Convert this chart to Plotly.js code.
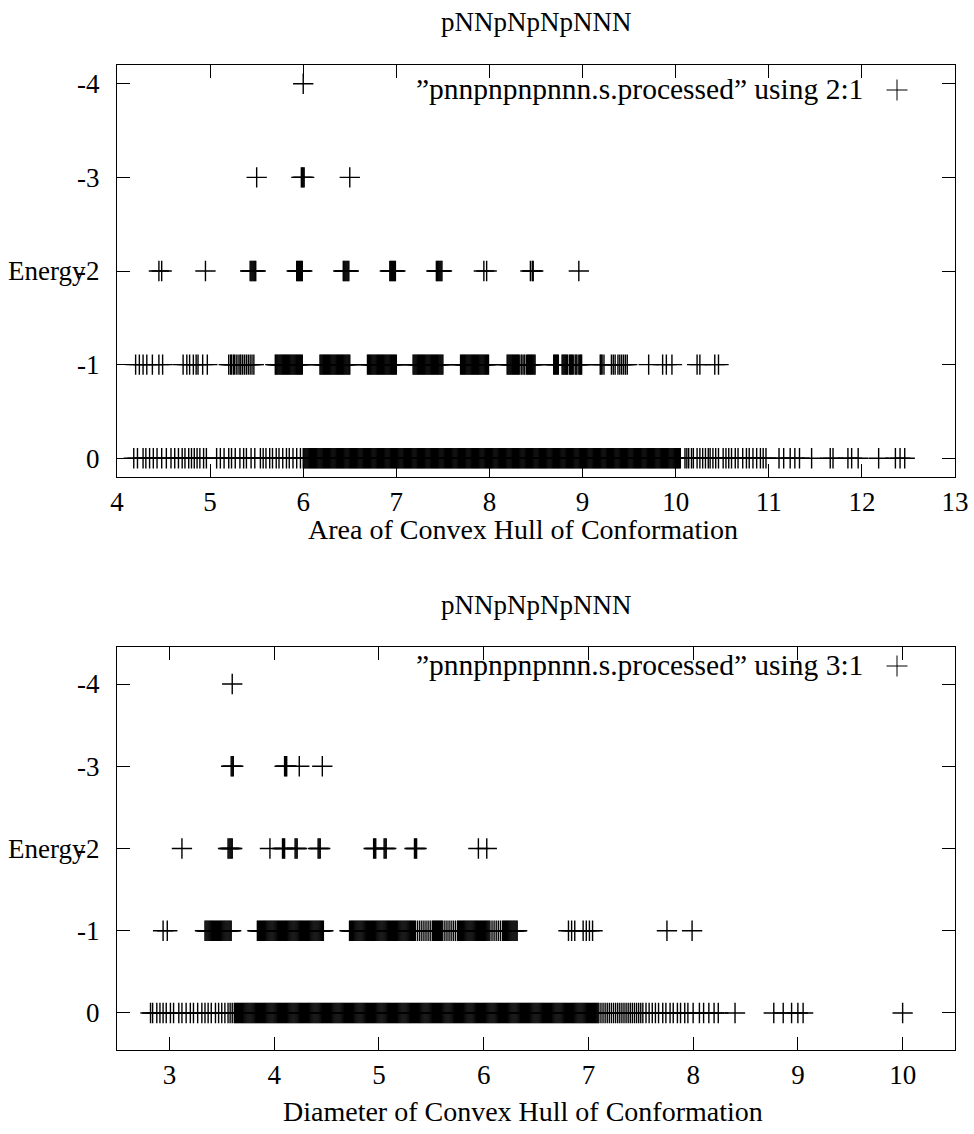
<!DOCTYPE html>
<html>
<head>
<meta charset="utf-8">
<script src="https://cdn.plot.ly/plotly-3.0.1.min.js"></script>
<style>html,body{margin:0;padding:0;background:#fff;}#chart{width:974px;height:1134px;}</style>
</head>
<body>
<div id="chart"></div>
<script>
// ---------- DATA ----------
var plotTitle = "pNNpNpNpNNN";
var energyTicks = [-4, -3, -2, -1, 0];
var energyTickText = ["-4", "-3", "-2", "-1", "0"];
var areaTicks = [4, 5, 6, 7, 8, 9, 10, 11, 12, 13];
var diamTicks = [3, 4, 5, 6, 7, 8, 9, 10];
var legendTop = "\u201dpnnpnpnpnnn.s.processed\u201d using 2:1";
var legendBottom = "\u201dpnnpnpnpnnn.s.processed\u201d using 3:1";

// Area of convex hull (column 2) per energy level
var areaE0 = [3.56,3.76,3.84,3.89,
4.18,4.22,4.28,4.31,4.35,4.39,4.43,4.48,4.53,4.58,4.62,4.66,4.70,4.73,4.77,4.80,4.83,4.86,4.89,4.93,4.96,5.07,5.11,5.15,5.20,5.23,5.27,5.32,5.36,5.39,5.44,5.48,5.54,5.57,5.60,5.64,5.67,5.71,5.74,5.78,5.82,5.85,5.89,5.93,5.97,
6.00,6.01,6.02,6.03,6.04,6.05,6.06,6.07,6.08,6.09,6.10,6.11,6.12,6.13,6.14,6.15,6.16,6.17,6.18,6.19,
6.20,6.21,6.22,6.23,6.24,6.25,6.26,6.27,6.28,6.29,6.30,6.31,6.32,6.33,6.34,6.35,6.36,6.37,6.38,6.39,
6.40,6.41,6.42,6.43,6.44,6.45,6.46,6.47,6.48,6.49,6.50,6.51,6.52,6.53,6.54,6.55,6.56,6.57,6.58,6.59,
6.60,6.61,6.62,6.63,6.64,6.65,6.66,6.67,6.68,6.69,6.70,6.71,6.72,6.73,6.74,6.75,6.76,6.77,6.78,6.79,
6.80,6.81,6.82,6.83,6.84,6.85,6.86,6.87,6.88,6.89,6.90,6.91,6.92,6.93,6.94,6.95,6.96,6.97,6.98,6.99,
7.00,7.01,7.02,7.03,7.04,7.05,7.06,7.07,7.08,7.09,7.10,7.11,7.12,7.13,7.14,7.15,7.16,7.17,7.18,7.19,
7.20,7.21,7.22,7.23,7.24,7.25,7.26,7.27,7.28,7.29,7.30,7.31,7.32,7.33,7.34,7.35,7.36,7.37,7.38,7.39,
7.40,7.41,7.42,7.43,7.44,7.45,7.46,7.47,7.48,7.49,7.50,7.51,7.52,7.53,7.54,7.55,7.56,7.57,7.58,7.59,
7.60,7.61,7.62,7.63,7.64,7.65,7.66,7.67,7.68,7.69,7.70,7.71,7.72,7.73,7.74,7.75,7.76,7.77,7.78,7.79,
7.80,7.81,7.82,7.83,7.84,7.85,7.86,7.87,7.88,7.89,7.90,7.91,7.92,7.93,7.94,7.95,7.96,7.97,7.98,7.99,
8.00,8.01,8.02,8.03,8.04,8.05,8.06,8.07,8.08,8.09,8.10,8.11,8.12,8.13,8.14,8.15,8.16,8.17,8.18,8.19,
8.20,8.21,8.22,8.23,8.24,8.25,8.26,8.27,8.28,8.29,8.30,8.31,8.32,8.33,8.34,8.35,8.36,8.37,8.38,8.39,
8.40,8.41,8.42,8.43,8.44,8.45,8.46,8.47,8.48,8.49,8.50,8.51,8.52,8.53,8.54,8.55,8.56,8.57,8.58,8.59,
8.60,8.61,8.62,8.63,8.64,8.65,8.66,8.67,8.68,8.69,8.70,8.71,8.72,8.73,8.74,8.75,8.76,8.77,8.78,8.79,
8.80,8.81,8.82,8.83,8.84,8.85,8.86,8.87,8.88,8.89,8.90,8.91,8.92,8.93,8.94,8.95,8.96,8.97,8.98,8.99,
9.00,9.01,9.02,9.03,9.04,9.05,9.06,9.07,9.08,9.09,9.10,9.11,9.12,9.13,9.14,9.15,9.16,9.17,9.18,9.19,
9.20,9.21,9.22,9.23,9.24,9.25,9.26,9.27,9.28,9.29,9.30,9.31,9.32,9.33,9.34,9.35,9.36,9.37,9.38,9.39,
9.40,9.41,9.42,9.43,9.44,9.45,9.46,9.47,9.48,9.49,9.50,9.51,9.52,9.53,9.54,9.55,9.56,9.57,9.58,9.59,
9.60,9.61,9.62,9.63,9.64,9.65,9.66,9.67,9.68,9.69,9.70,9.71,9.72,9.73,9.74,9.75,9.76,9.77,9.78,9.79,
9.80,9.81,9.82,9.83,9.84,9.85,9.86,9.87,9.88,9.89,9.90,9.91,9.92,9.93,9.94,9.95,9.96,9.97,9.98,9.99,
10.00,10.01,10.02,10.03,10.04,10.05,
10.10,10.12,10.14,10.17,10.19,10.23,10.26,10.29,10.32,10.35,10.37,10.40,10.43,10.46,10.51,10.54,10.57,10.60,10.64,10.67,10.72,10.76,10.79,10.83,10.87,10.91,10.94,10.97,
11.11,11.16,11.23,11.28,11.33,11.46,11.66,11.69,11.85,11.89,11.96,12.18,12.36,12.41,12.46];

var areaE1 = [4.20,4.24,4.28,4.32,4.38,4.45,4.49,
4.71,4.75,4.78,4.82,4.85,4.87,4.92,4.97,
5.20,5.22,5.23,5.25,5.26,5.28,5.30,5.32,5.33,5.35,5.37,5.39,5.41,5.43,5.45,5.47,
5.70,5.71,5.72,5.73,5.74,5.75,5.76,5.77,5.78,5.79,5.80,5.81,5.82,5.83,5.84,5.85,5.86,5.87,5.88,5.89,5.90,5.91,5.92,5.93,5.94,5.95,5.96,5.97,5.98,5.99,
6.18,6.19,6.20,6.21,6.22,6.23,6.24,6.25,6.26,6.27,6.28,6.29,6.30,6.31,6.32,6.33,6.34,6.35,6.36,6.37,6.38,6.39,6.40,6.41,6.42,6.43,6.44,6.45,6.46,6.47,6.48,6.49,6.50,
6.69,6.70,6.71,6.72,6.73,6.74,6.75,6.76,6.77,6.78,6.79,6.80,6.81,6.82,6.83,6.84,6.85,6.86,6.87,6.88,6.89,6.90,6.91,6.92,6.93,6.94,6.95,6.96,6.97,6.98,6.99,7.00,
7.18,7.19,7.20,7.21,7.22,7.23,7.24,7.25,7.26,7.27,7.28,7.29,7.30,7.31,7.32,7.33,7.34,7.35,7.36,7.37,7.38,7.39,7.40,7.41,7.42,7.43,7.44,7.45,7.46,7.47,7.48,7.49,7.50,
7.69,7.70,7.71,7.72,7.73,7.74,7.75,7.76,7.77,7.78,7.79,7.80,7.81,7.82,7.83,7.84,7.85,7.86,7.87,7.88,7.89,7.90,7.91,7.92,7.93,7.94,7.95,7.96,7.97,7.98,7.99,
8.19,8.20,8.21,8.22,8.23,8.24,8.25,8.26,8.27,8.28,8.29,8.30,8.31,8.32,8.34,8.35,8.37,8.38,8.40,8.41,8.42,8.43,8.44,8.45,8.46,8.47,8.48,8.49,
8.69,8.70,8.71,8.72,8.73,8.74,8.78,8.79,8.80,8.81,8.82,8.83,8.84,8.86,8.87,8.88,8.89,8.90,8.92,8.93,8.94,8.96,8.97,8.98,8.99,
9.19,9.20,9.21,9.23,9.31,9.33,9.35,9.38,9.40,9.42,9.44,9.46,9.48,
9.71,9.86,9.90,9.96,
10.23,10.26,10.42,10.46];

var areaE2 = [4.45,4.48,4.95,5.43,5.44,5.45,5.46,5.47,5.48,5.49,5.93,5.94,5.95,5.96,5.97,5.98,5.99,6.43,6.44,6.45,6.46,6.47,6.48,6.49,6.93,6.94,6.95,6.96,6.97,6.98,6.99,7.43,7.44,7.45,7.46,7.47,7.48,7.49,7.94,7.97,8.44,8.46,8.47,8.96];
var areaE3 = [5.50,5.98,5.99,6.00,6.01,6.50];
var areaE4 = [6.00];

// Diameter of convex hull (column 3) per energy level
var diamE0 = [2.82,2.84,2.88,2.91,2.94,2.97,3.01,3.04,3.09,3.12,3.16,3.20,3.23,3.27,3.31,3.34,3.37,3.40,3.44,3.47,3.50,3.53,3.56,3.58,3.60,3.62,
3.63,3.64,3.65,3.66,3.67,3.68,3.69,3.70,3.71,3.72,3.73,3.74,3.75,3.76,3.77,3.78,3.79,3.80,3.81,3.82,3.83,3.84,3.85,3.86,3.87,3.88,3.89,
3.90,3.91,3.92,3.93,3.94,3.95,3.96,3.97,3.98,3.99,4.00,4.01,4.02,4.03,4.04,4.05,4.06,4.07,4.08,4.09,
4.10,4.11,4.12,4.13,4.14,4.15,4.16,4.17,4.18,4.19,4.20,4.21,4.22,4.23,4.24,4.25,4.26,4.27,4.28,4.29,
4.30,4.31,4.32,4.33,4.34,4.35,4.36,4.37,4.38,4.39,4.40,4.41,4.42,4.43,4.44,4.45,4.46,4.47,4.48,4.49,
4.50,4.51,4.52,4.53,4.54,4.55,4.56,4.57,4.58,4.59,4.60,4.61,4.62,4.63,4.64,4.65,4.66,4.67,4.68,4.69,
4.70,4.71,4.72,4.73,4.74,4.75,4.76,4.77,4.78,4.79,4.80,4.81,4.82,4.83,4.84,4.85,4.86,4.87,4.88,4.89,
4.90,4.91,4.92,4.93,4.94,4.95,4.96,4.97,4.98,4.99,5.00,5.01,5.02,5.03,5.04,5.05,5.06,5.07,5.08,5.09,
5.10,5.11,5.12,5.13,5.14,5.15,5.16,5.17,5.18,5.19,5.20,5.21,5.22,5.23,5.24,5.25,5.26,5.27,5.28,5.29,
5.30,5.31,5.32,5.33,5.34,5.35,5.36,5.37,5.38,5.39,5.40,5.41,5.42,5.43,5.44,5.45,5.46,5.47,5.48,5.49,
5.50,5.51,5.52,5.53,5.54,5.55,5.56,5.57,5.58,5.59,5.60,5.61,5.62,5.63,5.64,5.65,5.66,5.67,5.68,5.69,
5.70,5.71,5.72,5.73,5.74,5.75,5.76,5.77,5.78,5.79,5.80,5.81,5.82,5.83,5.84,5.85,5.86,5.87,5.88,5.89,
5.90,5.91,5.92,5.93,5.94,5.95,5.96,5.97,5.98,5.99,6.00,6.01,6.02,6.03,6.04,6.05,6.06,6.07,6.08,6.09,
6.10,6.11,6.12,6.13,6.14,6.15,6.16,6.17,6.18,6.19,6.20,6.21,6.22,6.23,6.24,6.25,6.26,6.27,6.28,6.29,
6.30,6.31,6.32,6.33,6.34,6.35,6.36,6.37,6.38,6.39,6.40,6.41,6.42,6.43,6.44,6.45,6.46,6.47,6.48,6.49,
6.50,6.51,6.52,6.53,6.54,6.55,6.56,6.57,6.58,6.59,6.60,6.61,6.62,6.63,6.64,6.65,6.66,6.67,6.68,6.69,
6.70,6.71,6.72,6.73,6.74,6.75,6.76,6.77,6.78,6.79,6.80,6.81,6.82,6.83,6.84,6.85,6.86,6.87,6.88,6.89,
6.90,6.91,6.92,6.93,6.94,6.95,6.96,6.97,6.98,6.99,7.00,7.01,7.02,7.03,7.04,7.05,7.06,7.07,7.08,7.09,7.10,
7.12,7.14,7.16,7.18,7.20,7.22,7.24,7.26,7.28,7.30,7.32,7.34,7.36,7.38,7.40,7.42,7.44,7.46,7.48,7.50,7.52,7.55,7.58,
7.61,7.64,7.67,7.71,7.74,7.78,7.81,7.85,7.88,7.92,7.95,8.00,8.06,8.10,8.15,8.20,8.24,
8.40,8.77,8.86,8.94,9.00,9.05,10.00];

var diamE1 = [2.94,2.98,
3.34,3.35,3.36,3.37,3.38,3.39,3.40,3.41,3.42,3.43,3.44,3.45,3.46,3.47,3.48,3.49,3.50,3.51,3.52,3.53,3.54,3.55,3.56,3.57,3.58,3.59,
3.84,3.85,3.86,3.87,3.88,3.89,3.90,3.91,3.92,3.93,3.94,3.95,3.96,3.97,3.98,3.99,4.00,4.01,4.02,4.03,4.04,4.05,4.06,4.07,4.08,4.09,
4.10,4.11,4.12,4.13,4.14,4.15,4.16,4.17,4.18,4.19,4.20,4.21,4.22,4.23,4.24,4.25,4.26,4.27,4.28,4.29,
4.30,4.31,4.32,4.33,4.34,4.35,4.36,4.37,4.38,4.39,4.40,4.41,4.42,4.43,4.44,4.45,4.46,4.47,
4.72,4.73,4.74,4.75,4.76,4.77,4.78,4.79,4.80,4.81,4.82,4.83,4.84,4.85,4.86,4.87,4.88,4.89,
4.90,4.91,4.92,4.93,4.94,4.95,4.96,4.97,4.98,4.99,5.00,5.01,5.02,5.03,5.04,5.05,5.06,5.07,5.08,5.09,
5.10,5.11,5.12,5.13,5.14,5.15,5.16,5.17,5.18,5.19,5.20,5.21,5.22,5.23,5.24,5.25,5.26,5.27,5.28,5.29,
5.30,5.31,5.32,5.33,5.34,5.35,5.37,5.39,5.41,5.43,5.45,5.47,5.49,5.51,5.52,5.53,5.54,5.55,5.56,5.57,5.58,5.59,
5.60,5.61,5.63,5.65,5.67,5.69,5.71,5.73,5.75,5.76,5.77,5.78,5.79,5.80,5.81,5.82,5.83,5.84,5.85,5.86,5.87,5.88,5.89,
5.90,5.91,5.92,5.93,5.94,5.95,5.96,5.97,5.98,5.99,6.00,6.01,6.02,6.03,6.04,6.05,6.06,6.08,6.10,6.12,6.14,6.16,6.18,6.19,
6.20,6.21,6.22,6.23,6.24,6.25,6.26,6.27,6.28,6.29,6.30,6.31,6.32,
6.81,6.84,6.87,6.95,6.98,7.01,7.04,
7.75,7.99];

var diamE2 = [3.12,3.56,3.57,3.58,3.59,3.60,3.96,4.08,4.09,4.10,4.20,4.21,4.22,4.42,4.43,4.44,4.95,4.96,4.97,5.05,5.06,5.07,5.34,5.35,5.36,5.95,6.03];
var diamE3 = [3.59,3.60,3.61,4.10,4.11,4.12,4.24,4.46];
var diamE4 = [3.60];

// ---------- LAYOUT ----------
var W = 974, H = 1134;
function px(x) { return x / W; }
function py(y) { return 1 - y / H; }
var FONT = "'Liberation Serif', 'Times New Roman', serif";
var FS = 27;

var markerStyle = {symbol: "cross-thin", size: 14.5, color: "black", line: {width: 1.4, color: "black"}};

function levelTrace(xs, e, xa, ya) {
  return {
    type: "scatter", mode: "markers", x: xs, y: xs.map(function () { return e; }),
    xaxis: xa, yaxis: ya, marker: markerStyle, cliponaxis: false, showlegend: false, hoverinfo: "x+y"
  };
}

var traces = [
  levelTrace(areaE0, 0, "x", "y"), levelTrace(areaE1, -1, "x", "y"), levelTrace(areaE2, -2, "x", "y"),
  levelTrace(areaE3, -3, "x", "y"), levelTrace(areaE4, -4, "x", "y"),
  levelTrace(diamE0, 0, "x2", "y2"), levelTrace(diamE1, -1, "x2", "y2"), levelTrace(diamE2, -2, "x2", "y2"),
  levelTrace(diamE3, -3, "x2", "y2"), levelTrace(diamE4, -4, "x2", "y2")
];

var axisCommon = {
  ticks: "inside", ticklen: 13, tickwidth: 1, tickcolor: "black",
  showline: true, linecolor: "black", linewidth: 1, mirror: "ticks",
  showgrid: false, zeroline: false, fixedrange: true,
  tickfont: {family: FONT, size: FS, color: "black"}
};
function ax(extra) { return Object.assign({}, axisCommon, extra); }

var xDom = [px(117), px(955)];

var layout = {
  width: W, height: H, margin: {l: 0, r: 0, t: 0, b: 0},
  paper_bgcolor: "white", plot_bgcolor: "white", showlegend: false,
  font: {family: FONT, size: FS, color: "black"},
  xaxis: ax({domain: xDom, range: [4, 13], anchor: "y", tickmode: "array", tickvals: areaTicks, ticklabelstandoff: 1}),
  yaxis: ax({domain: [py(477), py(65)], range: [0.2, -4.2], anchor: "x", tickmode: "array",
             tickvals: energyTicks, ticktext: energyTickText, ticklabelstandoff: 11}),
  xaxis2: ax({domain: xDom, range: [2.5, 10.5], anchor: "y2", tickmode: "array", tickvals: diamTicks, ticklabelstandoff: 1}),
  yaxis2: ax({domain: [py(1050), py(647)], range: [0.45, -4.45], anchor: "x2", tickmode: "array",
              tickvals: energyTicks, ticktext: energyTickText, ticklabelstandoff: 11}),
  annotations: [
    {text: plotTitle, xref: "paper", yref: "paper", x: px(536), y: py(22), xanchor: "center", yanchor: "middle", showarrow: false},
    {text: plotTitle, xref: "paper", yref: "paper", x: px(536), y: py(605), xanchor: "center", yanchor: "middle", showarrow: false},
    {text: "Area of Convex Hull of Conformation", xref: "paper", yref: "paper", x: px(523), y: py(530), xanchor: "center", yanchor: "middle", showarrow: false, font: {size: 28}},
    {text: "Diameter of Convex Hull of Conformation", xref: "paper", yref: "paper", x: px(523), y: py(1111), xanchor: "center", yanchor: "middle", showarrow: false, font: {size: 28}},
    {text: "Energy", xref: "paper", yref: "y", x: px(88), y: -2, xanchor: "right", yanchor: "middle", showarrow: false},
    {text: "Energy", xref: "paper", yref: "y2", x: px(88), y: -2, xanchor: "right", yanchor: "middle", showarrow: false},
    {text: legendTop, xref: "paper", yref: "paper", x: px(865), y: py(89), xanchor: "right", yanchor: "middle", showarrow: false, font: {size: 29.5}},
    {text: legendBottom, xref: "paper", yref: "paper", x: px(865), y: py(665), xanchor: "right", yanchor: "middle", showarrow: false, font: {size: 29.5}}
  ],
  shapes: [
    {type: "line", xref: "paper", yref: "paper", x0: px(886.5), x1: px(907.5), y0: py(90), y1: py(90), line: {color: "black", width: 1}},
    {type: "line", xref: "paper", yref: "paper", x0: px(897), x1: px(897), y0: py(79.5), y1: py(100.5), line: {color: "black", width: 1}},
    {type: "line", xref: "paper", yref: "paper", x0: px(886.5), x1: px(907.5), y0: py(666), y1: py(666), line: {color: "black", width: 1}},
    {type: "line", xref: "paper", yref: "paper", x0: px(897), x1: px(897), y0: py(655.5), y1: py(676.5), line: {color: "black", width: 1}}
  ]
};

Plotly.newPlot("chart", traces, layout, {displayModeBar: false, staticPlot: true});
</script>
</body>
</html>
